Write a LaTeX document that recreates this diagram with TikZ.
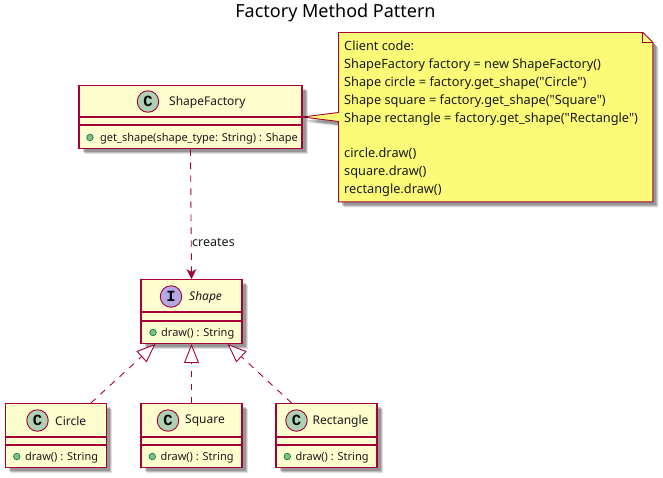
\documentclass[tikz,border=0pt]{standalone}
\usepackage{fontspec}
\setmainfont{Noto Sans}[Ligatures=TeXOff]
\newfontfamily\iconfont{Liberation Mono}
\usetikzlibrary{arrows.meta, shadows, backgrounds, calc}

\definecolor{umlred}{HTML}{A80036}
\definecolor{umlfill}{HTML}{FEFECE}
\definecolor{notefill}{HTML}{FBFB77}
\definecolor{classicon}{HTML}{ADD1B2}
\definecolor{ifaceicon}{HTML}{B4A7E5}
\definecolor{dotfill}{HTML}{84BE84}
\definecolor{dotline}{HTML}{038048}
\definecolor{umltext}{HTML}{1A1A1A}

\tikzset{
    softshadow/.style={
        drop shadow={shadow xshift=5.5pt, shadow yshift=-5.5pt, fill=black, opacity=0.12},
        drop shadow={shadow xshift=4.5pt, shadow yshift=-4.5pt, fill=black, opacity=0.16},
        drop shadow={shadow xshift=3.5pt, shadow yshift=-3.5pt, fill=black, opacity=0.2}},
    classbox/.style={rectangle, draw=umlred, fill=umlfill, line width=1.4pt, minimum height=63.5pt, inner sep=0pt, softshadow},
    classline/.style={draw=umlred, line width=1.2pt},
    icon/.style={circle, draw=umlred, line width=0.9pt, minimum size=21.5pt, inner sep=0pt, text=black, font=\fontsize{15.5}{15.5}\iconfont\bfseries},
    classname/.style={text=umltext, inner sep=0pt, font=\fontsize{12}{14}\selectfont},
    member/.style={text=umltext, inner sep=0pt, anchor=west, font=\fontsize{11}{13}\selectfont},
    dot/.style={circle, draw=dotline, fill=dotfill, line width=0.7pt, minimum size=6.5pt, inner sep=0pt},
    relation/.style={draw=umlred, line width=0.9pt, dash pattern=on 6.5pt off 6.5pt},
    realize/.style={relation, arrows={-Triangle[open, fill=white, length=19pt, width=15pt, line width=0.9pt]}}
}

\begin{document}
\begin{tikzpicture}[x=1pt, y=-1pt]
    \useasboundingbox (0,0) rectangle (663,477);

    % Title
    \node[inner sep=0pt, text=black, font=\fontsize{18}{22}\selectfont] (TITLE) at (335.5,13) {Factory Method Pattern};

    % Factory class
    \node[classbox, minimum width=223pt] (FACTORY) at (190.5,117) {};
    \draw[classline] (FACTORY.west |- 0,117) -- (FACTORY.east |- 0,117);
    \draw[classline] (FACTORY.west |- 0,125) -- (FACTORY.east |- 0,125);
    \node[icon, fill=classicon] (FACTORY_ICON) at (148,101.5) {C};
    \node[classname, anchor=west] (FACTORY_NAME) at (169,102) {ShapeFactory};
    \node[dot] (FACTORY_DOT) at (90,137.5) {};
    \node[member] (FACTORY_GET) at (100,138.5) {get\_shape(shape\_type: String) : Shape};

    % Interface
    \node[classbox, minimum width=101pt] (SHAPE) at (191.5,311.5) {};
    \draw[classline] (SHAPE.west |- 0,312) -- (SHAPE.east |- 0,312);
    \draw[classline] (SHAPE.west |- 0,321) -- (SHAPE.east |- 0,321);
    \node[icon, fill=ifaceicon] (SHAPE_ICON) at (171,296.5) {I};
    \node[classname, anchor=west, font=\fontsize{12}{14}\selectfont\itshape] (SHAPE_NAME) at (189,297) {Shape};
    \node[dot] (SHAPE_DOT) at (153,332.5) {};
    \node[member] (SHAPE_DRAW) at (161,333.5) {draw() : String};

    % Concrete classes
    \foreach \cname/\ctext/\cx/\ix/\nx in {CIRCLE/Circle/56/37.5/55, SQUARE/Square/191.5/168/185, RECT/Rectangle/326.5/296.5/312.5} {
        \node[classbox, minimum width=101pt] (\cname) at (\cx,435.5) {};
        \draw[classline] (\cname.west |- 0,437) -- (\cname.east |- 0,437);
        \draw[classline] (\cname.west |- 0,445) -- (\cname.east |- 0,445);
        \node[icon, fill=classicon] (\cname_ICON) at (\ix,420.5) {C};
        \node[classname, anchor=west] (\cname_NAME) at (\nx,421) {\ctext};
        \node[dot] (\cname_DOT) at ($(\cname.west)+(12,21)$) {};
        \node[member] (\cname_DRAW) at ($(\cname.west)+(20,22)$) {draw() : String};
    }

    % Client note
    \node[anchor=north west, inner sep=0pt, minimum width=314pt, minimum height=169pt] (NOTE) at (338.5,32.5) {};
    \node[anchor=north west, inner sep=0pt, align=left, text=umltext, font=\fontsize{12.75}{17.8}\selectfont] (NOTE_TEXT) at (344,41)
        {Client code:\\ShapeFactory factory = new ShapeFactory()\\Shape circle = factory.get\_shape("Circle")\\Shape square = factory.get\_shape("Square")\\Shape rectangle = factory.get\_shape("Rectangle")\\[17.8pt]circle.draw()\\square.draw()\\rectangle.draw()};
    \begin{scope}[on background layer]
        \draw[draw=umlred, fill=notefill, line width=0.9pt, line join=miter, softshadow]
            (NOTE.north west) -- ([xshift=-10pt]NOTE.north east) -- ([yshift=-10pt]NOTE.north east) -- (NOTE.south east)
            -- (NOTE.south west) -- ([yshift=-4.5pt]NOTE.south west |- FACTORY.east) -- (FACTORY.east)
            -- ([yshift=4.5pt]NOTE.south west |- FACTORY.east) -- cycle;
    \end{scope}
    \draw[draw=umlred, line width=0.9pt, line join=miter] ([xshift=-10pt]NOTE.north east) -- ([xshift=-10pt,yshift=-10pt]NOTE.north east) -- ([yshift=-10pt]NOTE.north east);

    % Connections
    \draw[relation, arrows={-Stealth[inset=3pt, length=10pt, width=10pt]}] (FACTORY.south) -- (SHAPE.north);
    \node[inner sep=0pt, anchor=west, text=umltext, font=\fontsize{12.5}{14}\selectfont] (CREATES) at (192,242.5) {creates};

    \draw[realize] (CIRCLE.43) -- (SHAPE.222);
    \draw[realize] (SQUARE.north) -- (SHAPE.south);
    \draw[realize] (RECT.137.6) -- (SHAPE.318);
\end{tikzpicture}
\end{document}
